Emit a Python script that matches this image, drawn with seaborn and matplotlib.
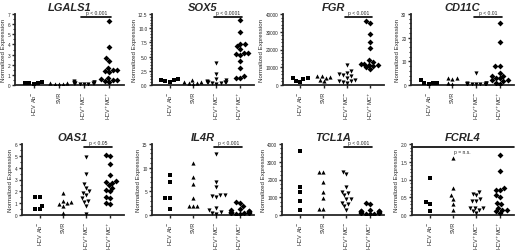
import numpy as np
import pandas as pd
import matplotlib
matplotlib.use("Agg")
import matplotlib.pyplot as plt
from matplotlib.ticker import MultipleLocator
import seaborn as sns

groups = ["HCV Ab-", "SVR", "HCV+MC-", "HCV+MC+"]
group_labels = ["HCV Ab$^{-}$", "SVR", "HCV$^{+}$MC$^{-}$", "HCV$^{+}$MC$^{+}$"]
markers = ["s", "^", "v", "D"]

genes = ["LGALS1", "SOX5", "FGR", "CD11C", "OAS1", "IL4R", "TCL1A", "FCRL4"]

lgals1 = [[0.15, 0.3, 0.1, 0.15, 0.2],
          [0.2, 0.1, 0.05, 0.15, 0.1],
          [0.4, 0.3, 0.2, 0.15, 0.1, 0.2, 0.3, 0.1, 0.25, 0.15, 0.05, 0.2],
          [6.3, 3.7, 2.4, 2.7, 1.5, 1.5, 1.3, 1.7, 0.6, 0.5, 0.5, 0.3, 0.7, 0.4, 1.4]]
sox5 = [[0.8, 0.6, 1.0, 0.7, 0.9],
        [0.3, 0.9, 0.5, 0.2, 0.6, 0.4],
        [3.8, 2.0, 1.1, 0.8, 0.6, 0.5, 0.4, 0.3, 0.7, 0.5, 0.2, 0.6],
        [11.5, 9.3, 7.3, 7.2, 6.8, 6.3, 5.7, 5.5, 5.3, 4.3, 3.0, 1.5, 1.3, 1.2, 5.6]]
fgr = [[4000, 3500, 2500, 1800, 3800],
       [5000, 4000, 4500, 2000, 3000, 5000],
       [11000, 8000, 7000, 6000, 5500, 5000, 4000, 3000, 2500, 2000, 1500, 1000],
       [36000, 35000, 29000, 24000, 21000, 14000, 13000, 12000, 11000, 10000, 9000, 12000, 11500, 10500]]
cd11c = [[2, 1, 0.5, 0.8, 1],
         [3, 2.5, 1, 0.5, 3],
         [5, 1, 0.8, 0.5, 0.5, 0.6, 0.4, 0.5, 0.7, 0.3, 0.5, 0.4],
         [26, 18, 8, 8, 5, 4, 3, 2, 2, 1.5, 1, 0.5, 3, 4]]
oas1 = [[1.5, 1.5, 0.8, 0.5, 0.5],
        [1.9, 1.0, 0.9, 0.8, 1.2, 1.1, 0.2],
        [4.9, 3.5, 2.6, 2.3, 2.0, 1.9, 1.7, 1.4, 1.1, 1.2, 0.8, 0.1],
        [5.1, 5.0, 4.3, 3.4, 2.9, 2.8, 2.7, 2.5, 2.3, 2.1, 2.0, 1.5, 1.4, 1.0, 0.9]]
il4r = [[8.5, 7.0, 3.5, 3.5, 1.2],
        [11, 8, 6.5, 3.5, 2, 2, 2],
        [12.8, 7, 6, 4.2, 4.0, 3.8, 4.3, 1.5, 1.0, 0.6, 0.5, 0.3],
        [2.5, 2.8, 1.8, 1.2, 1.0, 0.8, 0.6, 0.5, 0.4, 0.7, 0.3, 0.2, 0.9, 0.5, 0.6]]
tcl1a = [[3600, 1600, 1300, 800, 300],
         [2450, 2450, 1850, 1300, 950, 350, 350],
         [2400, 2300, 1550, 1250, 1100, 900, 900, 600, 500, 300, 1300, 700],
         [600, 700, 250, 200, 150, 100, 80, 50, 200, 300, 250, 100, 150, 50]]
fcrl4 = [[1.05, 0.37, 0.3, 0.1],
         [1.6, 0.75, 0.55, 0.45, 0.3, 0.15],
         [0.65, 0.6, 0.55, 0.45, 0.4, 0.4, 0.2, 0.2, 0.2, 0.15, 0.1, 0.05],
         [1.7, 1.25, 0.75, 0.7, 0.7, 0.55, 0.5, 0.35, 0.3, 0.2, 0.15, 0.15, 0.1, 0.05]]

values = [lgals1, sox5, fgr, cd11c, oas1, il4r, tcl1a, fcrl4]
ymax = [7, 12.5, 40000, 30, 6, 15, 4000, 2.0]
major = [1, 2.5, 10000, 10, 1, 5, 1000, 0.5]
minor = [0.5, 0.5, 2000, 2, 0.5, 1, 250, 0.1]
pvals = ["p < 0.001", "p < 0.0001", "p < 0.001", "p < 0.01",
         "p < 0.05", "p < 0.001", "p < 0.001", "p = n.s."]

sns.set_style("ticks")
plt.rcParams["font.family"] = ["Liberation Sans", "DejaVu Sans"]

fig = plt.figure(figsize=(5.2, 2.51), dpi=100)
W, H = 520.0, 251.0
lefts = [15, 152, 283, 411, 22, 152, 282, 412]

for i, gene in enumerate(genes):
    row = i // 4
    col = i % 4
    x0 = lefts[i]
    x1 = 130 * col + 124
    if row == 0:
        top, bot = 15, 86
    else:
        top, bot = 145, 216
    ax = fig.add_axes([x0 / W, 1 - bot / H, (x1 - x0) / W, (bot - top) / H])

    rows = []
    for g, vals in zip(groups, values[i]):
        for v in vals:
            rows.append({"group": g, "value": v})
    df = pd.DataFrame(rows)

    for g, m in zip(groups, markers):
        sns.swarmplot(data=df[df["group"] == g], x="group", y="value", order=groups,
                      marker=m, color="black", size=3.0, linewidth=0, ax=ax,
                      warn_thresh=1)

    ax.set_xlim(-0.75, 3.6)
    ax.set_ylim(0, ymax[i])
    ax.yaxis.set_major_locator(MultipleLocator(major[i]))
    ax.yaxis.set_minor_locator(MultipleLocator(minor[i]))
    ax.set_xticks(range(4))
    ax.set_xticklabels(group_labels, rotation=90, fontsize=4.0)
    ax.tick_params(axis="y", labelsize=3.4, width=1, length=2.5, pad=0.8)
    ax.tick_params(axis="y", which="minor", width=0.8, length=1.5)
    ax.tick_params(axis="x", width=1, length=2.5, pad=1.5)
    ax.set_xlabel("")
    ax.set_ylabel("Normalized Expression", fontsize=4.4, labelpad=1)
    for s in ["left", "bottom"]:
        ax.spines[s].set_linewidth(1.3)
    sns.despine(ax=ax)
    ax.set_title(gene, fontsize=8, fontweight="bold", style="italic", pad=3)

    if gene == "FCRL4":
        ax.plot([-0.75, 3.6], [0.96 * ymax[i], 0.96 * ymax[i]], color="black", lw=1.2,
                clip_on=False)
        ax.text(1.4, 0.9 * ymax[i], pvals[i], fontsize=3.6, ha="center", va="center")
    else:
        ax.plot([1.9, 3.1], [0.96 * ymax[i], 0.96 * ymax[i]], color="black", lw=1.2,
                clip_on=False)
        ax.text(2.5, 0.98 * ymax[i], pvals[i], fontsize=3.6, ha="center", va="bottom")

fig.savefig("out.png", dpi=100)
